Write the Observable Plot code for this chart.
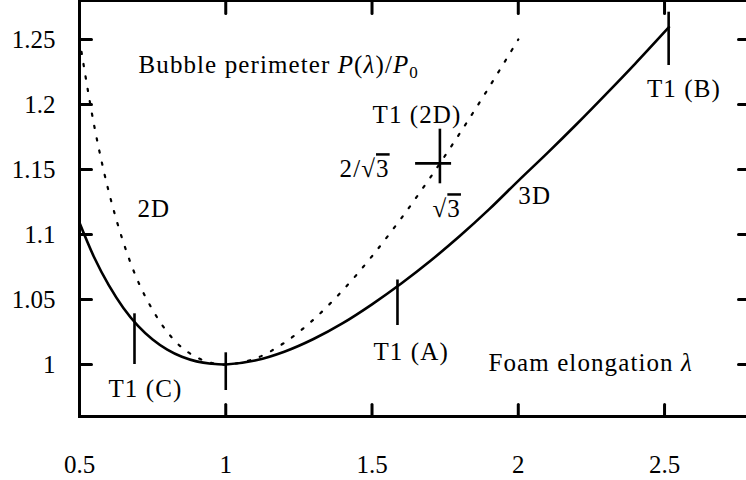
<!DOCTYPE html>
<html>
<head>
<meta charset="utf-8">
<script src="https://cdn.jsdelivr.net/npm/d3@7"></script>
<script src="https://cdn.jsdelivr.net/npm/@observablehq/plot@0.6"></script>
<style>
  html, body { margin: 0; padding: 0; background: #fff; overflow: hidden; }
  #chart svg, #chart svg text { font-family: "Liberation Serif", serif !important; font-size: 25px; fill: #000; }
  #chart g[aria-label="text"] text { letter-spacing: 1.1px; }
</style>
</head>
<body>
<div id="chart"></div>
<script>
// 3D bubble perimeter P(λ)/P0 versus foam elongation λ (solid curve)
const lambda3D = [0.5, 0.55, 0.6, 0.65, 0.7, 0.75, 0.8, 0.85, 0.9, 0.95, 1.0, 1.1, 1.2, 1.3, 1.4, 1.5, 1.6, 1.7, 1.8, 1.9, 2.0, 2.1, 2.2, 2.3, 2.4, 2.515];
const perimeter3D = [1.109, 1.0825, 1.061, 1.0435, 1.0297, 1.0192, 1.0114, 1.0059, 1.0024, 1.0006, 1.0, 1.003, 1.0098, 1.0196, 1.0318, 1.0463, 1.0623, 1.0798, 1.0988, 1.1193, 1.1413, 1.1628, 1.185, 1.208, 1.2315, 1.2595];

// 2D perimeter (dotted curve)
const lambda2D = [0.5, 0.55, 0.6, 0.65, 0.7, 0.75, 0.8, 0.85, 0.9, 0.95, 1.0, 1.1, 1.2, 1.3, 1.4, 1.5, 1.6, 1.7, 1.8, 1.9, 2.0];
const perimeter2D = [1.25, 1.184, 1.133, 1.094, 1.064, 1.042, 1.025, 1.013, 1.0056, 1.0013, 1.0, 1.0045, 1.0167, 1.0346, 1.0571, 1.0833, 1.1125, 1.1441, 1.1778, 1.2132, 1.25];

// T1 events marked on the 3D curve (vertical bars) and the λ = 1 marker
const t1Lambda = [0.688, 1.0, 1.587, 2.514];
const t1Low = [1.0, 0.98, 1.03, 1.23];
const t1High = [1.039, 1.009, 1.065, 1.271];

// 2D T1 point at (√3, 2/√3), drawn as a cross
const t1Lambda2D = Math.sqrt(3);
const t1Perimeter2D = 2 / Math.sqrt(3);
const crossX = [1.649, 1.772];
const crossY = [1.139, 1.181];

// axes
const xTicks = [0.5, 1, 1.5, 2, 2.5];
const xTickLabels = ["0.5", "1", "1.5", "2", "2.5"];
const yTicks = [1, 1.05, 1.1, 1.15, 1.2, 1.25];
const yTickLabels = ["1", "1.05", "1.1", "1.15", "1.2", "1.25"];
const xDomain = [0.5, 2.787];
const yDomain = [0.96, 1.28];

// text annotations: label and its anchor (start of baseline) in data units
const labelText = ["Bubble perimeter P(λ)/P0", "2D", "T1 (2D)", "2/√3", "√3", "3D", "T1 (B)", "T1 (A)", "T1 (C)", "Foam elongation λ"];
const labelX = [0.7017, 0.698, 1.5017, 1.389, 1.7068, 2.0, 2.44, 1.505, 0.599, 1.898];
const labelY = [1.2246, 1.1138, 1.1856, 1.1441, 1.1133, 1.1238, 1.2054, 1.0031, 0.9749, 0.9949];

const curve3D = lambda3D.map((x, i) => ({x, y: perimeter3D[i]}));
const curve2D = lambda2D.map((x, i) => ({x, y: perimeter2D[i]}));
const t1 = t1Lambda.map((x, i) => ({x, y1: t1Low[i], y2: t1High[i]}));
const labels = labelText.map((text, i) => ({text, x: labelX[i], y: labelY[i]}));

// a straight tick of length l, pointing "up" before rotation
const tickShape = {draw(ctx, l) { ctx.moveTo(0, 0); ctx.lineTo(0, -l); }};
const tick = {anchor: "start", shape: tickShape, stroke: "black", strokeWidth: 3};
const font = {fontFamily: "Liberation Serif", fontSize: 25};

const plot = Plot.plot({
  width: 746,
  height: 480,
  marginLeft: 79,
  marginRight: -2,
  marginTop: 0,
  marginBottom: 64,
  x: {domain: xDomain},
  y: {domain: yDomain},
  marks: [
    Plot.frame({stroke: "black", strokeWidth: 3}),
    // inward ticks on all four sides
    Plot.vector(yTicks, {...tick, x: xDomain[0], y: d => d, length: 12, rotate: 90}),
    Plot.vector(yTicks, {...tick, x: xDomain[1], y: d => d, length: 10, rotate: -90}),
    Plot.vector(xTicks, {...tick, x: d => d, y: yDomain[0], length: 12, rotate: 0}),
    Plot.vector(xTicks, {...tick, x: d => d, y: yDomain[1], length: 13, rotate: 180}),
    Plot.axisY({...font, ticks: yTicks, tickSize: 0, tickPadding: 24, tickFormat: (d, i) => yTickLabels[i], label: null}),
    Plot.axisX({...font, ticks: xTicks, tickSize: 0, tickPadding: 39, tickFormat: (d, i) => xTickLabels[i], label: null}),
    // curves
    Plot.line(curve2D, {x: "x", y: "y", curve: "catmull-rom", stroke: "black", strokeWidth: 2.2, strokeDasharray: "2.2 10.3"}),
    Plot.line(curve3D, {x: "x", y: "y", curve: "catmull-rom", stroke: "black", strokeWidth: 2.6}),
    // T1 markers
    Plot.ruleX(t1, {x: "x", y1: "y1", y2: "y2", stroke: "black", strokeWidth: 2.6}),
    Plot.ruleX([t1Lambda2D], {y1: crossY[0], y2: crossY[1], stroke: "black", strokeWidth: 2.6}),
    Plot.ruleY([t1Perimeter2D], {x1: crossX[0], x2: crossX[1], stroke: "black", strokeWidth: 2.6}),
    // annotations
    Plot.text(labels, {...font, x: "x", y: "y", text: "text", textAnchor: "start", lineAnchor: "bottom", fill: "black"})
  ]
});

// typeset the math parts of the annotations: italic symbols, subscripts, radical bars
const rich = {
  "Bubble perimeter P(λ)/P0": [["Bubble perimeter "], ["P", "i"], ["("], ["λ", "i"], [")/"], ["P", "i"], ["0", "sub"]],
  "Foam elongation λ": [["Foam elongation "], ["λ", "i"]],
  "2/√3": [["2/√"], ["3", "bar"]],
  "√3": [["√"], ["3", "bar"]]
};
d3.select(plot).selectAll('g[aria-label="text"] text').each(function () {
  const parts = rich[this.textContent];
  if (!parts) return;
  const node = d3.select(this);
  node.text("");
  for (const [s, kind] of parts) {
    const ts = node.append("tspan").text(s);
    if (kind === "i") ts.attr("font-style", "italic");
    if (kind === "sub") ts.attr("font-size", "17px").attr("dy", "5");
    if (kind === "bar") ts.style("text-decoration", "overline");
  }
});

document.getElementById("chart").append(plot);
</script>
</body>
</html>
